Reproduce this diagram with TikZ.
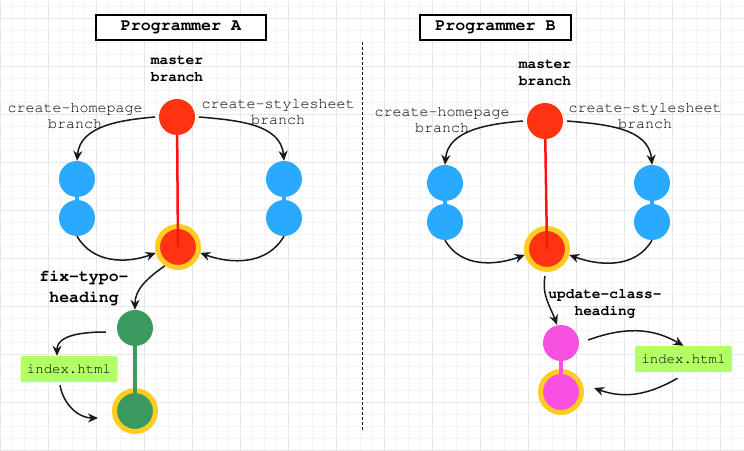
\documentclass[tikz,border=0pt]{standalone}
\usepackage{fontspec}
\newcommand\codefont{\fontencoding{OT1}\fontfamily{pcr}\selectfont}
\usetikzlibrary{arrows.meta}

\definecolor{masterred}{HTML}{FF3311}
\definecolor{linered}{HTML}{FF1111}
\definecolor{branchblue}{HTML}{2AAAFF}
\definecolor{headyellow}{HTML}{FFCC22}
\definecolor{fixgreen}{HTML}{3A9A5E}
\definecolor{updatepink}{HTML}{F850E0}
\definecolor{filegreen}{HTML}{B2FF66}
\definecolor{gridgray}{HTML}{E6E6E6}

\begin{document}
\begin{tikzpicture}[
        x = 1pt, y = 1pt,
        >={Stealth[length=10pt, width=9pt]},
        commit/.style = {circle, minimum size = 36pt, inner sep = 0pt},
        headcommit/.style = {circle, minimum size = 41pt, inner sep = 0pt, draw = headyellow, line width = 5pt},
        titlebox/.style = {draw, line width = 1.2pt, minimum height = 25pt, inner sep = 0pt, font = \codefont\bfseries\fontsize{16.7}{18}\selectfont},
        branchlabel/.style = {align = center, text = black, font = \codefont\fontsize{15}{16}\selectfont},
        boldlabel/.style = {align = center, font = \codefont\bfseries\fontsize{14.5}{17}\selectfont},
        filebox/.style = {fill = filegreen, rounded corners = 2pt, minimum width = 97pt, minimum height = 26pt, inner sep = 0pt, font = \codefont\fontsize{14}{16}\selectfont},
        flow/.style = {->, line width = 1.5pt, black!90}
    ]
        % background grid
        \useasboundingbox (0,0) rectangle (744,450);
        \fill[white] (0,0) rectangle (744,450);
        \draw[gridgray!45, line width = 0.4pt, step = 12] (0,0) grid (744,450);
        \draw[gridgray, line width = 0.8pt, step = 48] (0,0) grid (744,450);

        \node[titlebox, minimum width = 170pt, fill = white] (titleA) at (181,422.5) {Programmer A};
        \node[titlebox, minimum width = 151pt, fill = white] (titleB) at (495.5,422.5) {Programmer B};
        \draw[line width = 1pt, dash pattern = on 3pt off 2pt] (362,408) -- (362,20);

        %% Programmer A
        \node[commit, fill = masterred] (mA) at (177,333) {};
        \node[headcommit, fill = masterred] (mA2) at (178,203) {};
        \draw[linered, line width = 2.5pt] (mA) -- (mA2.center);
        \node[boldlabel] (mAlabel) at (177,380.5) {master\\branch};

        \node[commit, fill = branchblue] (hA1) at (77,271) {};
        \node[commit, fill = branchblue] (hA2) at (77,232) {};
        \draw[branchblue, line width = 4pt] (hA1) -- (hA2);
        \node[commit, fill = branchblue] (sA1) at (284,271) {};
        \node[commit, fill = branchblue] (sA2) at (284,232) {};
        \draw[branchblue, line width = 4pt] (sA1) -- (sA2);
        \node[branchlabel] (hAlabel) at (75,334) {create-homepage\\branch};
        \node[branchlabel] (sAlabel) at (278,338.5) {create-stylesheet\\branch};

        \draw[flow] ([xshift=-4pt]mA.west) to[out=185, in=85] (hA1.north);
        \draw[flow] ([xshift=4pt]mA.east) to[out=-5, in=95] (sA1.north);
        \draw[flow] (hA2.south) to[out=-60, in=200] (mA2.195);
        \draw[flow] (sA2.south) to[out=-120, in=-20] (mA2.-15);

        \node[commit, fill = fixgreen] (fA1) at (135,122) {};
        \node[headcommit, fill = fixgreen] (fA2) at (135,39) {};
        \draw[fixgreen, line width = 3.5pt] (fA1) -- (fA2.center);
        \node[boldlabel, font = \codefont\bfseries\fontsize{16.5}{21}\selectfont] (fAlabel) at (84,162.5) {fix-typo-\\heading};
        \draw[flow] (mA2.235) to[out=215, in=90] (fA1.north);

        \node[filebox] (iA) at (69,81) {index.html};
        \draw[flow] ([xshift=-11pt,yshift=-4pt]fA1.west) to[out=180, in=90] ([xshift=-12pt]iA.north);
        \draw[flow] ([xshift=-9pt,yshift=-3pt]iA.south) to[out=-80, in=180] ([xshift=-14pt,yshift=-7pt]fA2.west);

        %% Programmer B
        \node[commit, fill = masterred] (mB) at (545,329) {};
        \node[headcommit, fill = masterred] (mB2) at (547,201) {};
        \draw[linered, line width = 2.5pt] (mB) -- (mB2.center);
        \node[boldlabel] (mBlabel) at (545,376.5) {master\\branch};

        \node[commit, fill = branchblue] (hB1) at (445,267) {};
        \node[commit, fill = branchblue] (hB2) at (445,228) {};
        \draw[branchblue, line width = 4pt] (hB1) -- (hB2);
        \node[commit, fill = branchblue] (sB1) at (652,267) {};
        \node[commit, fill = branchblue] (sB2) at (652,228) {};
        \draw[branchblue, line width = 4pt] (sB1) -- (sB2);
        \node[branchlabel] (hBlabel) at (442,330) {create-homepage\\branch};
        \node[branchlabel] (sBlabel) at (645,334.5) {create-stylesheet\\branch};

        \draw[flow] ([xshift=-4pt]mB.west) to[out=185, in=85] (hB1.north);
        \draw[flow] ([xshift=4pt]mB.east) to[out=-5, in=95] (sB1.north);
        \draw[flow] (hB2.south) to[out=-60, in=200] (mB2.195);
        \draw[flow] (sB2.south) to[out=-120, in=-20] (mB2.-15);

        \node[commit, fill = updatepink] (pB1) at (561,107) {};
        \node[headcommit, fill = updatepink] (pB2) at (561,58) {};
        \draw[updatepink, line width = 4pt] (pB1) -- (pB2.center);
        \node[boldlabel] (pBlabel) at (605,146.5) {update-class-\\heading};
        \draw[flow] ([xshift=-2pt,yshift=-4pt]mB2.south) to[out=-100, in=110] ([xshift=-4pt]pB1.north);

        \node[filebox] (iB) at (683.5,91) {index.html};
        \draw[flow] ([xshift=9pt,yshift=3pt]pB1.east) to[out=20, in=150] (iB.north);
        \draw[flow] ([xshift=-6pt,yshift=-6pt]iB.south) to[out=-150, in=-20] ([xshift=10pt,yshift=4pt]pB2.east);
    \end{tikzpicture}
\end{document}
